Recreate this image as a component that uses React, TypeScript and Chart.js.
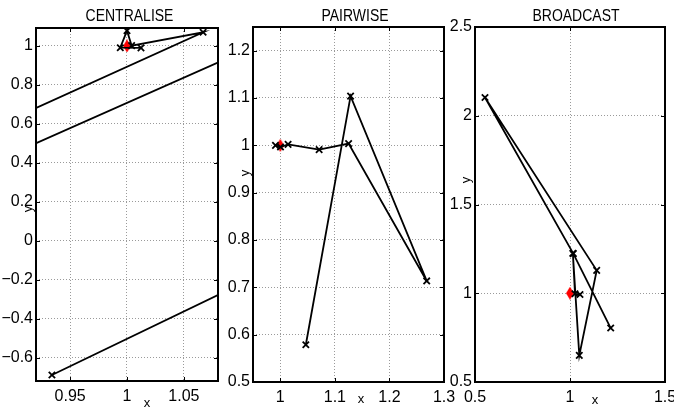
import React, { useEffect, useRef } from "react";
import { Chart, registerables } from "chart.js";
Chart.register(...registerables);

// ---------- data ----------
const CENT_X = [0.934, 1.2, 1.2, 0.85, 0.85, 1.0669, 1.0041, 1.0, 0.9941, 1.0123];
const CENT_Y = [-0.687, 0.06, 1.226, 0.32, 0.497, 1.07, 1.0015, 1.078, 0.991, 0.99];
const PAIR_X = [1.0468, 1.1288, 1.2683, 1.1252, 1.0712, 1.0143, 1.0004, 0.9912];
const PAIR_Y = [0.5787, 1.1039, 0.7135, 1.0036, 0.9909, 1.0021, 0.9964, 1.0];
const BROAD_X = [1.2142, 1.0174, 0.5526, 1.1405, 1.0489, 1.015, 1.0263, 1.0526];
const BROAD_Y = [0.804, 1.223, 2.103, 1.129, 0.65, 1.225, 0.997, 0.993];
const TARGET_X = [1];
const TARGET_Y = [1];

const TITLES = ["CENTRALISE", "PAIRWISE", "BROADCAST"];
const X_LABEL = "x";
const Y_LABEL = "y";

const CENT_XTICKS = [0.95, 1, 1.05];
const CENT_XTICK_LABELS = ["0.95", "1", "1.05"];
const CENT_YTICKS = [-0.6, -0.4, -0.2, 0, 0.2, 0.4, 0.6, 0.8, 1];
const CENT_YTICK_LABELS = ["\u22120.6", "\u22120.4", "\u22120.2", "0", "0.2", "0.4", "0.6", "0.8", "1"];
const PAIR_XTICKS = [1, 1.1, 1.2, 1.3];
const PAIR_XTICK_LABELS = ["1", "1.1", "1.2", "1.3"];
const PAIR_YTICKS = [0.5, 0.6, 0.7, 0.8, 0.9, 1, 1.1, 1.2];
const PAIR_YTICK_LABELS = ["0.5", "0.6", "0.7", "0.8", "0.9", "1", "1.1", "1.2"];
const BROAD_XTICKS = [0.5, 1, 1.5];
const BROAD_XTICK_LABELS = ["0.5", "1", "1.5"];
const BROAD_YTICKS = [0.5, 1, 1.5, 2, 2.5];
const BROAD_YTICK_LABELS = ["0.5", "1", "1.5", "2", "2.5"];

const CENT_XRANGE = [0.92, 1.08];
const CENT_YRANGE = [-0.718, 1.092];
const PAIR_XRANGE = [0.95, 1.3];
const PAIR_YRANGE = [0.5, 1.25];
const BROAD_XRANGE = [0.5, 1.5];
const BROAD_YRANGE = [0.5, 2.5];

// ---------- layout ----------
const W = 674;
const H = 413;
const FONT = '"Liberation Sans", Arial, Helvetica, sans-serif';
const TITLE_FONT = '14px "Liberation Sans", Arial, sans-serif';

const PANELS = [
  {
    title: TITLES[0], xs: CENT_X, ys: CENT_Y, xr: CENT_XRANGE, yr: CENT_YRANGE,
    xt: CENT_XTICKS, xtl: CENT_XTICK_LABELS, yt: CENT_YTICKS, ytl: CENT_YTICK_LABELS,
    left: 36, right: 218, top: 28, bottom: 381,
    titleX: 129.5, xlab: [147, 403], ylab: [28.5, 209],
  },
  {
    title: TITLES[1], xs: PAIR_X, ys: PAIR_Y, xr: PAIR_XRANGE, yr: PAIR_YRANGE,
    xt: PAIR_XTICKS, xtl: PAIR_XTICK_LABELS, yt: PAIR_YTICKS, ytl: PAIR_YTICK_LABELS,
    left: 253, right: 444, top: 27, bottom: 382,
    titleX: 355, xlab: [361, 399], ylab: [245, 173],
  },
  {
    title: TITLES[2], xs: BROAD_X, ys: BROAD_Y, xr: BROAD_XRANGE, yr: BROAD_YRANGE,
    xt: BROAD_XTICKS, xtl: BROAD_XTICK_LABELS, yt: BROAD_YTICKS, ytl: BROAD_YTICK_LABELS,
    left: 475, right: 665, top: 27, bottom: 382,
    titleX: 576, xlab: [595, 400], ylab: [466.5, 180],
  },
];

function makeDiamond(): HTMLCanvasElement {
  const c = document.createElement("canvas");
  c.width = 8;
  c.height = 13;
  const g = c.getContext("2d")!;
  g.fillStyle = "#ff0000";
  g.beginPath();
  g.moveTo(4, 0);
  g.lineTo(8, 6.5);
  g.lineTo(4, 13);
  g.lineTo(0, 6.5);
  g.closePath();
  g.fill();
  return c;
}

function Panel({ p }: { p: any }) {
  const ref = useRef<HTMLCanvasElement | null>(null);
  const axw = Math.min(45, p.left);
  const rightPad = 20;
  const canvasLeft = p.left - axw;
  const cw = p.right - p.left + axw + rightPad;

  useEffect(() => {
    const canvas = ref.current;
    if (!canvas) return;
    const diamond = makeDiamond();
    const frame = {
      id: "frame",
      afterDraw(chart: any) {
        const { ctx, chartArea: a } = chart;
        const xs = chart.scales.x;
        const ys = chart.scales.y;
        ctx.save();
        ctx.strokeStyle = "#000";
        ctx.lineWidth = 1;
        const tl = 4;
        ctx.beginPath();
        for (const v of p.xt) {
          const px = Math.round(xs.getPixelForValue(v)) + 0.5;
          ctx.moveTo(px, a.bottom);
          ctx.lineTo(px, a.bottom - tl);
          ctx.moveTo(px, a.top);
          ctx.lineTo(px, a.top + tl);
        }
        for (const v of p.yt) {
          const py = Math.round(ys.getPixelForValue(v)) + 0.5;
          ctx.moveTo(a.left, py);
          ctx.lineTo(a.left + tl, py);
          ctx.moveTo(a.right, py);
          ctx.lineTo(a.right - tl, py);
        }
        ctx.stroke();
        ctx.lineWidth = 2;
        ctx.strokeRect(a.left, a.top, a.right - a.left, a.bottom - a.top);
        ctx.fillStyle = "#000";
        ctx.textAlign = "center";
        ctx.textBaseline = "middle";
        ctx.save();
        ctx.font = TITLE_FONT;
        ctx.translate(p.titleX - canvasLeft, 16);
        ctx.scale(1, 1.22);
        ctx.fillText(p.title, 0, 0);
        ctx.restore();
        ctx.font = "13px " + FONT;
        ctx.fillText(X_LABEL, p.xlab[0] - canvasLeft, p.xlab[1]);
        ctx.translate(p.ylab[0] - canvasLeft, p.ylab[1]);
        ctx.rotate(-Math.PI / 2);
        ctx.fillText(Y_LABEL, 0, 0);
        ctx.restore();
      },
    };
    const chart = new Chart(canvas, {
      type: "scatter",
      data: {
        datasets: [
          {
            data: p.xs.map((x: number, i: number) => ({ x, y: p.ys[i] })),
            showLine: true,
            borderColor: "#000",
            borderWidth: 1.8,
            pointStyle: "crossRot",
            pointRadius: 4.5,
            pointBorderWidth: 1.8,
            pointBorderColor: "#000",
            pointBackgroundColor: "#000",
          },
          {
            data: TARGET_X.map((x, i) => ({ x, y: TARGET_Y[i] })),
            showLine: false,
            pointStyle: diamond as any,
            pointRadius: 6,
          },
        ],
      },
      options: {
        responsive: false,
        animation: false,
        events: [],
        layout: { padding: { left: 0, right: rightPad, top: p.top, bottom: 0 } },
        plugins: { legend: { display: false }, tooltip: { enabled: false }, title: { display: false } },
        scales: {
          x: {
            type: "linear",
            min: p.xr[0],
            max: p.xr[1],
            afterBuildTicks: (s: any) => {
              s.ticks = p.xt.map((v: number) => ({ value: v }));
            },
            afterFit: (s: any) => {
              s.height = H - p.bottom;
            },
            grid: { color: "#9a9a9a", lineWidth: 1, drawTicks: false },
            border: { display: false, dash: [1, 2] },
            ticks: {
              color: "#000",
              font: { family: FONT, size: 16 },
              padding: 6,
              maxRotation: 0,
              autoSkip: false,
              callback: (_v: any, i: number) => p.xtl[i],
            },
          },
          y: {
            type: "linear",
            min: p.yr[0],
            max: p.yr[1],
            afterBuildTicks: (s: any) => {
              s.ticks = p.yt.map((v: number) => ({ value: v }));
            },
            afterFit: (s: any) => {
              s.width = axw;
            },
            grid: { color: "#9a9a9a", lineWidth: 1, drawTicks: false },
            border: { display: false, dash: [1, 2] },
            ticks: {
              color: "#000",
              font: { family: FONT, size: 16 },
              padding: 3,
              autoSkip: false,
              callback: (_v: any, i: number) => p.ytl[i],
            },
          },
        },
      },
      plugins: [frame],
    } as any);
    return () => chart.destroy();
  }, []);

  return (
    <canvas
      ref={ref}
      width={cw}
      height={H}
      style={{ position: "absolute", left: canvasLeft, top: 0, width: cw, height: H }}
    />
  );
}

export default function App() {
  return (
    <div
      style={{
        position: "fixed",
        left: 0,
        top: 0,
        width: W,
        height: H,
        overflow: "hidden",
        background: "#fff",
      }}
    >
      {PANELS.map((p, i) => (
        <Panel key={i} p={p} />
      ))}
    </div>
  );
}
